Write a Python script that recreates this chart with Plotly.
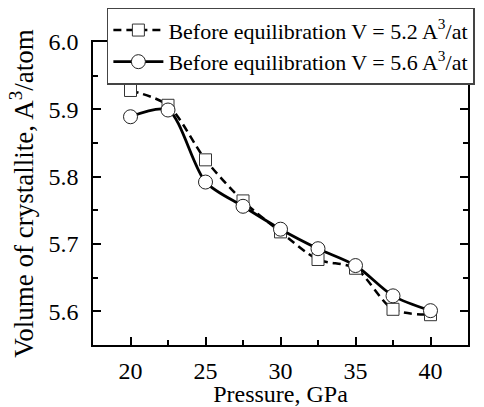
import plotly.graph_objects as go

pressure = [20, 22.5, 25, 27.5, 30, 32.5, 35, 37.5, 40]
vol_52 = [5.928, 5.906, 5.825, 5.764, 5.718, 5.677, 5.664, 5.603, 5.595]
vol_56 = [5.889, 5.899, 5.792, 5.756, 5.722, 5.693, 5.668, 5.623, 5.601]
name_52 = "Before equilibration V = 5.2 A<sup>3</sup>/at"
name_56 = "Before equilibration V = 5.6 A<sup>3</sup>/at"

FONT = "Liberation Serif"

fig = go.Figure()
fig.add_trace(go.Scatter(
    x=pressure, y=vol_52, name=name_52, mode="lines+markers",
    line=dict(color="black", width=2.5, dash="8px,5px", shape="spline", smoothing=0.8),
    marker=dict(symbol="square", size=12, color="white", line=dict(color="#333", width=1)),
))
fig.add_trace(go.Scatter(
    x=pressure, y=vol_56, name=name_56, mode="lines+markers",
    line=dict(color="black", width=2.8, shape="spline", smoothing=0.8),
    marker=dict(symbol="circle", size=14, color="white", line=dict(color="#222", width=1)),
))

axis_common = dict(
    showline=True, linecolor="black", linewidth=1.5, mirror="ticks",
    ticks="inside", ticklen=8, tickwidth=1.5, tickcolor="black",
    showgrid=False, zeroline=False,
    tickfont=dict(family=FONT, size=24, color="black"),
)

fig.update_xaxes(
    range=[17.5, 42.5], tickvals=[20, 25, 30, 35, 40],
    minor=dict(tickvals=[22.5, 27.5, 32.5, 37.5], ticks="inside", ticklen=5, tickwidth=1.5, tickcolor="black"),
    title=dict(text="Pressure, GPa", font=dict(family=FONT, size=24, color="black"), standoff=1),
    ticklabelstandoff=3,
    **axis_common,
)
fig.update_yaxes(
    range=[5.55, 6.0], tickvals=[5.6, 5.7, 5.8, 5.9, 6.0], tickformat=".1f",
    minor=dict(tickvals=[5.55, 5.65, 5.75, 5.85, 5.95], ticks="inside", ticklen=5, tickwidth=1.5, tickcolor="black"),
    title=dict(text="Volume of crystallite, A<sup>3</sup>/atom", font=dict(family=FONT, size=27, color="black"), standoff=7),
    ticklabelstandoff=8,
    **axis_common,
)

fig.update_layout(
    width=484, height=407,
    margin=dict(l=93, r=16, t=42, b=62, autoexpand=False),
    paper_bgcolor="white", plot_bgcolor="white",
    font=dict(family=FONT, size=24, color="black"),
    showlegend=True,
    legend=dict(
        x=0.037, y=1.113, xanchor="left", yanchor="top",
        bgcolor="white", bordercolor="#444", borderwidth=1.5,
        font=dict(family=FONT, size=22, color="black"),
        itemwidth=50, tracegroupgap=0,
    ),
)

fig.write_html("out.html")
